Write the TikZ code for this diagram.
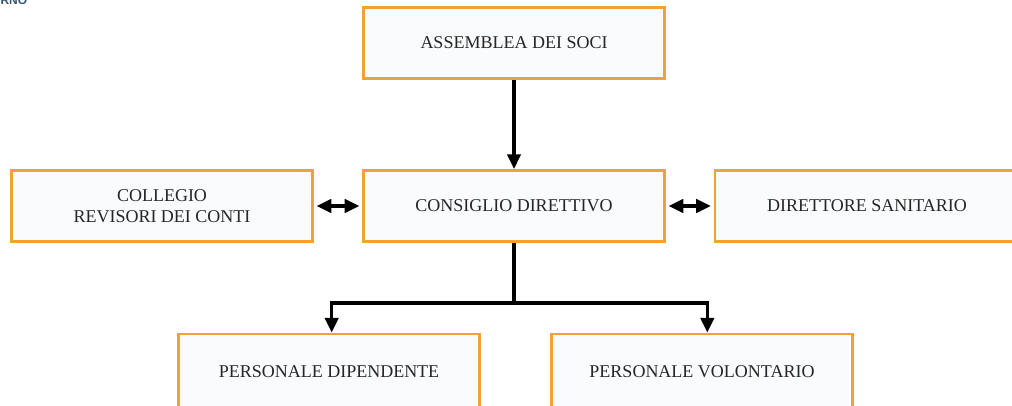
\documentclass[tikz,border=0pt]{standalone}
\usepackage{fontspec}
\setmainfont{Liberation Serif}
\setsansfont{Liberation Sans}
\usetikzlibrary{arrows.meta}

\definecolor{boxorange}{RGB}{240,163,52}
\definecolor{boxfill}{RGB}{250,251,252}
\definecolor{logoblue}{RGB}{52,86,120}

\tikzset{every picture/.style={line width=0.75pt}}
\tikzset{
  orgbox/.style={draw=boxorange, fill=boxfill, line width=2.2pt, inner sep=0.75pt,
    minimum width=225.75pt, minimum height=53.25pt, align=center,
    font=\fontsize{13.5}{16}\selectfont, text=black!85},
  link/.style={line width=2.4pt, draw=black},
  tip/.style={-{Triangle[length=11pt,width=10pt]}},
  bothtips/.style={{Triangle[length=11pt,width=10pt]}-{Triangle[length=11pt,width=10pt]}}
}

\begin{document}
\begin{tikzpicture}[x=0.75pt,y=0.75pt,yscale=-1,xscale=1]
	\useasboundingbox (0,0) rectangle (1012,406);
	
	% Logo fragment
	\node (logo) [anchor=base west, inner sep=0pt, font=\sffamily\bfseries\fontsize{9}{10}\selectfont, text=logoblue] at (0,5) {RNO};
	
	% Boxes
	\node (soci) [orgbox] at (514,43) {ASSEMBLEA DEI SOCI};
	\node (consiglio) [orgbox] at (514,206) {CONSIGLIO DIRETTIVO};
	\node (collegio) [orgbox] at (162,206) {COLLEGIO\\REVISORI DEI CONTI};
	\node (sanitario) [orgbox, minimum width=228pt] at (867,206) {DIRETTORE SANITARIO};
	\node (dipendente) [orgbox, minimum height=57pt] at (329,372) {PERSONALE DIPENDENTE};
	\node (volontario) [orgbox, minimum height=57pt] at (702,372) {PERSONALE VOLONTARIO};
	
	% Connections
	\coordinate (fork) at (514,303);
	\draw [link, tip] (soci) -- (consiglio);
	\draw [link, bothtips, shorten <=2pt, shorten >=2pt] (collegio) -- (consiglio);
	\draw [link, bothtips, shorten <=2pt, shorten >=2pt] (consiglio) -- (sanitario);
	\draw [link] (consiglio) -- (fork);
	\draw [link, tip] (fork) -| ([xshift=2]dipendente.north);
	\draw [link, tip] (fork) -| ([xshift=4]volontario.north);
	
\end{tikzpicture}
\end{document}
